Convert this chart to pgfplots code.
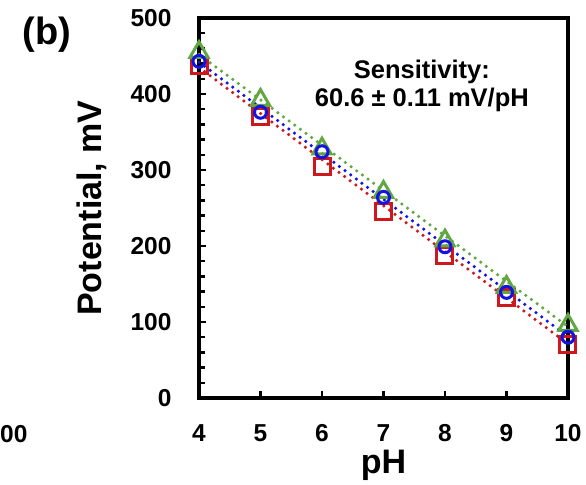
\documentclass[border=0pt]{standalone}
\usepackage{pgfplots}
\pgfplotsset{compat=1.18}
\usepackage{fontspec}
\setmainfont{Liberation Sans}
\definecolor{cgreen}{RGB}{98,168,66}
\definecolor{cblue}{RGB}{20,20,225}
\definecolor{cred}{RGB}{205,25,30}
\begin{document}
\begin{tikzpicture}[font=\bfseries]
\path[use as bounding box] (0,0) rectangle (586bp,485bp);
\begin{axis}[
  at={(199bp,87bp)}, anchor=south west,
  width=369bp, height=380bp, scale only axis,
  xmin=4, xmax=10, ymin=0, ymax=500,
  xtick={4,5,...,10}, ytick={0,100,...,500},
  minor y tick num=4,
  xtick pos=bottom, ytick pos=left,
  tick align=inside,
  major tick length=7bp, minor tick length=6bp,
  every tick/.style={black, line width=2.5bp},
  axis line style={black, line width=3.5bp},
  clip=false,
  /pgf/number format/assume math mode=true,
  ticklabel style={font=\fontsize{24.5bp}{28bp}\selectfont\bfseries},
  yticklabel style={xshift=-24bp},
  xticklabel style={yshift=-23bp},
  xlabel={pH},
  ylabel={Potential, mV},
  label style={font=\fontsize{34bp}{40bp}\selectfont\bfseries},
  xlabel style={at={(axis description cs:0.5,-0.128)}, anchor=north},
  ylabel style={at={(axis description cs:-0.29,0.5)}, anchor=center},
]
% fit lines
\addplot[cred, line width=3.5bp, line cap=round, dash pattern=on 0bp off 7bp] coordinates {(4,435) (10,71)};
\addplot[cblue, line width=3.5bp, line cap=round, dash pattern=on 0bp off 7bp] coordinates {(4,442) (10,81)};
\addplot[cgreen, line width=3.5bp, line cap=round, dash pattern=on 0bp off 7bp] coordinates {(4,452) (10,94)};
% data
\addplot[only marks, mark=square, mark size=8bp, mark options={cred, line width=3bp}]
  coordinates {(4,437) (5,370) (6,304) (7,245) (8,188) (9,132) (10,71)};
\addplot[only marks, mark=triangle, mark size=10.5bp, mark options={cgreen, line width=3bp}]
  coordinates {(4,455) (5,392) (6,328) (7,271) (8,207) (9,146) (10,96)};
\addplot[only marks, mark=o, mark size=6bp, mark options={cblue, line width=3bp}]
  coordinates {(4,443) (5,376) (6,324) (7,264) (8,199) (9,139) (10,80)};
\node[font=\fontsize{25.5bp}{30bp}\selectfont\bfseries] at (rel axis cs:0.604,0.858) {Sensitivity:};
\node[font=\fontsize{25.5bp}{30bp}\selectfont\bfseries] at (rel axis cs:0.604,0.784) {60.6 ± 0.11 mV/pH};
\end{axis}
\node[font=\fontsize{38bp}{44bp}\selectfont\bfseries] at (47bp,450bp) {(b)};
\node[anchor=west, inner sep=0pt, font=\fontsize{24.5bp}{28bp}\selectfont\bfseries] at (0bp,51bp) {00};
\end{tikzpicture}
\end{document}
